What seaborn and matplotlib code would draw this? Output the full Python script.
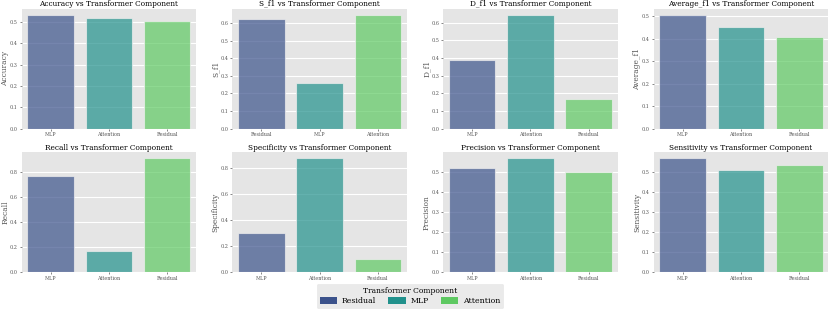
import matplotlib
matplotlib.use("Agg")
import matplotlib.pyplot as plt
import seaborn as sns
import pandas as pd
from matplotlib.patches import Patch

# Data (x order per panel, values per panel)
acc_x = ["MLP", "Attention", "Residual"]
acc_y = [0.535, 0.520, 0.505]
sf1_x = ["Residual", "MLP", "Attention"]
sf1_y = [0.625, 0.262, 0.648]
df1_x = ["MLP", "Attention", "Residual"]
df1_y = [0.390, 0.645, 0.168]
avg_x = ["MLP", "Attention", "Residual"]
avg_y = [0.507, 0.453, 0.408]
rec_x = ["MLP", "Attention", "Residual"]
rec_y = [0.775, 0.170, 0.915]
spe_x = ["MLP", "Attention", "Residual"]
spe_y = [0.298, 0.875, 0.100]
pre_x = ["MLP", "Attention", "Residual"]
pre_y = [0.523, 0.570, 0.503]
sen_x = ["MLP", "Attention", "Residual"]
sen_y = [0.570, 0.513, 0.535]

metrics = ["Accuracy", "S_f1", "D_f1", "Average_f1",
           "Recall", "Specificity", "Precision", "Sensitivity"]
panels = [(acc_x, acc_y), (sf1_x, sf1_y), (df1_x, df1_y), (avg_x, avg_y),
          (rec_x, rec_y), (spe_x, spe_y), (pre_x, pre_y), (sen_x, sen_y)]
legend_labels = ["Residual", "MLP", "Attention"]

plt.style.use("ggplot")
plt.rcParams["font.family"] = ["DejaVu Serif"]

palette = sns.color_palette("viridis", 3)

fig, axes = plt.subplots(2, 4, figsize=(8.3, 3.13), dpi=100)
fig.subplots_adjust(left=0.026, right=0.998, top=0.971, bottom=0.131,
                    wspace=0.206, hspace=0.2)

for ax, metric, (xs, ys) in zip(axes.flat, metrics, panels):
    df = pd.DataFrame({"Component": xs, metric: ys})
    sns.barplot(data=df, x="Component", y=metric, hue="Component",
                palette=palette, alpha=0.7, saturation=1, legend=False,
                ax=ax, edgecolor="#EEEEEE", linewidth=0.8)
    ax.set_title(f"{metric} vs Transformer Component", fontsize=5.3,
                 color="black", pad=2)
    ax.set_xlabel("")
    ax.set_ylabel(metric, fontsize=5.4, color="#555555", labelpad=0.5)
    ax.tick_params(axis="both", labelsize=3.5, length=1.5, pad=1.2,
                   width=0.5)
    for s in ax.spines.values():
        s.set_visible(False)

handles = [Patch(facecolor=c, label=l) for c, l in zip(palette, legend_labels)]
leg = fig.legend(handles=handles, title="Transformer Component", ncol=3,
                 loc="lower center", bbox_to_anchor=(0.494, 0.003),
                 fontsize=5.6, title_fontsize=5.5, frameon=True,
                 handlelength=2.2, handleheight=0.9, columnspacing=1.6,
                 handletextpad=0.6, borderpad=0.4, labelspacing=0.3)
leg.get_frame().set_facecolor("#E5E5E5")
leg.get_frame().set_edgecolor("#E5E5E5")

fig.savefig("out.png", dpi=100)
